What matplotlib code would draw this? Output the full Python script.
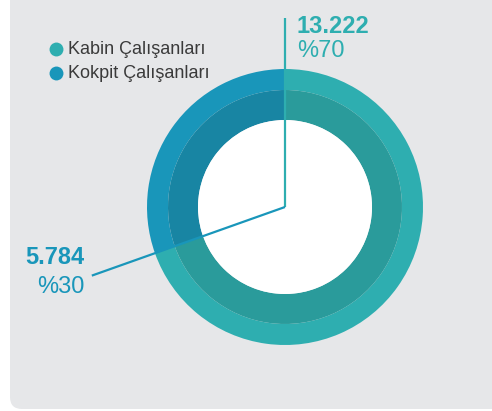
import numpy as np
import matplotlib
matplotlib.use("Agg")
import matplotlib.pyplot as plt
from matplotlib.patches import Circle, FancyBboxPatch

plt.rcParams['font.family'] = ['Liberation Sans', 'DejaVu Sans']

categories = ["Kokpit Çalışanları", "Kabin Çalışanları"]
counts = [5784, 13222]
count_labels = ["5.784", "13.222"]
pct_labels = ["%30", "%70"]
legend_order = ["Kabin Çalışanları", "Kokpit Çalışanları"]

outer_colors = {"Kokpit Çalışanları": "#1996ba", "Kabin Çalışanları": "#2eaeb0"}
inner_colors = {"Kokpit Çalışanları": "#1885a3", "Kabin Çalışanları": "#2a9b9b"}
bg = "#e6e7e9"

W, H = 492, 411
fig = plt.figure(figsize=(W / 100, H / 100), dpi=100)
fig.patch.set_facecolor("white")
ax = fig.add_axes([0, 0, 1, 1])

# rounded panel
ax.add_patch(FancyBboxPatch((10, 2), 540, 430, boxstyle="round,pad=0,rounding_size=12",
                            facecolor=bg, edgecolor="none", zorder=0))

cx, cy = 285, 204
r_out, r_mid, r_in = 138, 117, 87

ax.pie(counts, center=(cx, cy), radius=r_out, startangle=90, counterclock=True,
       colors=[outer_colors[c] for c in categories],
       wedgeprops=dict(width=r_out - r_mid, linewidth=0), frame=True)
ax.pie(counts, center=(cx, cy), radius=r_mid, startangle=90, counterclock=True,
       colors=[inner_colors[c] for c in categories],
       wedgeprops=dict(width=r_mid - r_in, linewidth=0), frame=True)
ax.add_patch(Circle((cx, cy), r_in, facecolor="white", edgecolor="none", zorder=3))
ax.set_aspect("auto")
ax.set_xlim(0, W)
ax.set_ylim(0, H)
ax.axis("off")

# leader lines along the wedge boundaries
total = sum(counts)
ang0 = np.deg2rad(90)
ang1 = np.deg2rad(90 + 360 * counts[0] / total)
ax.plot([cx, cx + 189 * np.cos(ang0)], [cy, cy + 189 * np.sin(ang0)],
        color=outer_colors["Kabin Çalışanları"], lw=1.6, zorder=5, solid_capstyle="butt")
L = 205
ax.plot([cx, cx + L * np.cos(ang1)], [cy, cy + L * np.sin(ang1)],
        color=outer_colors["Kokpit Çalışanları"], lw=1.6, zorder=5, solid_capstyle="butt")

# value labels
kab = outer_colors["Kabin Çalışanları"]
kok = outer_colors["Kokpit Çalışanları"]
ax.text(297, H - 27, count_labels[1], color=kab, fontsize=17, fontweight="bold",
        ha="left", va="center")
ax.text(297, H - 51, pct_labels[1], color=kab, fontsize=17, ha="left", va="center")
ax.text(84, H - 257, count_labels[0], color=kok, fontsize=17, fontweight="bold",
        ha="right", va="center")
ax.text(84, H - 287, pct_labels[0], color=kok, fontsize=17, ha="right", va="center")

# legend
for i, name in enumerate(legend_order):
    y = H - 49 - 24 * i
    ax.scatter([56], [y], s=100, color=outer_colors[name], zorder=6, linewidths=0)
    ax.text(68.5, y, name, color="#3a3a3a", fontsize=13, ha="left", va="center")

fig.savefig("out.png", dpi=100, facecolor="white")
